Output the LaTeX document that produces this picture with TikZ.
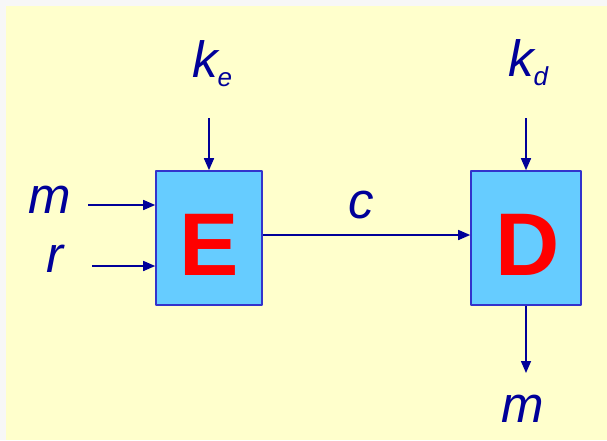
\documentclass[tikz,border=0pt]{standalone}
\usepackage{fontspec}
\setmainfont{Liberation Sans}
\usepackage{tikz}
\usetikzlibrary{arrows.meta,calc,positioning}
\definecolor{paper}{HTML}{FFFFCC}
\definecolor{edge}{HTML}{F7F7F7}
\definecolor{boxfill}{HTML}{66CCFF}
\definecolor{boxline}{HTML}{3333CC}
\definecolor{ink}{HTML}{000099}
\tikzset{cbox/.style={draw=boxline,line width=1.6pt,fill=boxfill,inner sep=0pt,minimum height=134pt},
  letr/.style={text=red,font=\fontsize{89}{89}\selectfont\bfseries,inner sep=0pt},
  sym/.style={text=ink,font=\fontsize{51}{51}\selectfont\itshape,inner sep=0pt,anchor=base},
  arr/.style={->,draw=ink,line width=1.5pt}}
\newcommand{\subk}[1]{k{\fontsize{26}{26}\selectfont\raisebox{-9pt}{#1}}}
\begin{document}
\begin{tikzpicture}[x=1pt,y=-1pt,>={Triangle[length=12pt,width=10pt]},line join=round]
% --- paper
\fill[edge] (0,0) rectangle (607,440);
\fill[paper] (6,6) rectangle (607,440);
\useasboundingbox (0,0) rectangle (607,440);
% --- the two boxes
\node[cbox,minimum width=106pt] (E) at (209,238) {};
\node[cbox,minimum width=110pt] (D) at (526,238) {};
\node[letr] (Elet) at (209,244.5) {E};
\node[letr] (Dlet) at (527.5,244.5) {D};
% --- inputs and outputs
\node[sym] (ke) at (212,77) {\subk{e}};
\node[sym] (kd) at (528,76) {\subk{d}};
\node[sym] (m) at (49.5,213) {m};
\node[sym] (r) at (55,272) {r};
\node[sym] (c) at (361,218) {c};
\node[sym] (mout) at (523,422) {m};
\coordinate (kein) at (209,118); \coordinate (kdin) at (526,118);
\coordinate (min) at (88,205); \coordinate (rin) at (92,266);
\coordinate (mend) at (526,373);
\draw[arr] (kein) -- (E.north);
\draw[arr] (kdin) -- (D.north);
\draw[arr] (min) -- (min -| E.west);
\draw[arr] (rin) -- (rin -| E.west);
\draw[arr] ([yshift=3pt]E.east) -- ([yshift=3pt]D.west);
\draw[arr] (D.south) -- (mend);
\end{tikzpicture}
\end{document}
